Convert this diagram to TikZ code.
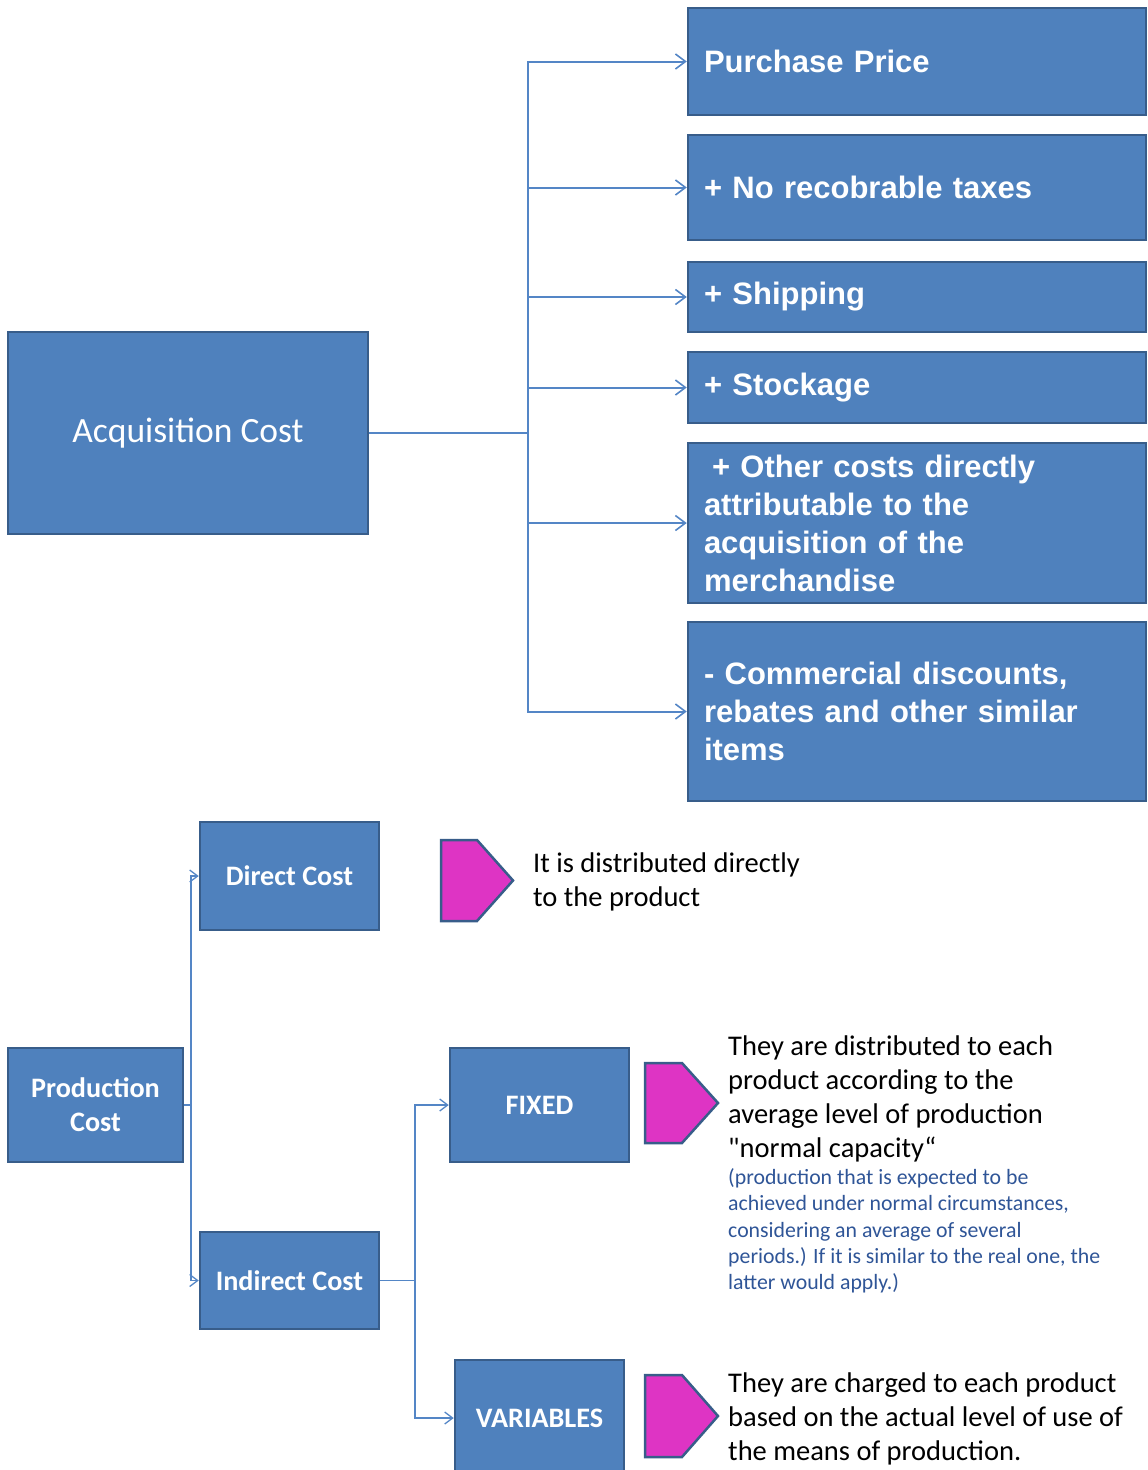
\documentclass[tikz,border=0pt]{standalone}
\usepackage{fontspec}
\setmainfont{Carlito}
\newfontfamily\quotefont{Carlito}
\newfontfamily\arialf{Liberation Sans}
\usetikzlibrary{arrows.meta}
\definecolor{boxfill}{RGB}{79,129,189}
\definecolor{boxline}{RGB}{56,93,138}
\definecolor{conncol}{RGB}{84,134,198}
\definecolor{magent}{RGB}{222,52,196}
\definecolor{noteblue}{RGB}{47,85,151}
\tikzset{
  bluebox/.style={draw=boxline, line width=2.5pt, fill=boxfill, text=white, rectangle, inner sep=0pt},
  rbox/.style={bluebox, minimum width=458pt, text width=426pt, align=left,
     font=\arialf\bfseries\fontsize{31}{38}\selectfont},
  lbox/.style={bluebox, align=center, font=\bfseries\fontsize{28.2}{34}\selectfont},
  conn/.style={draw=conncol, line width=2pt, -{Straight Barb[length=10pt,width=15pt,line width=1.6pt]}},
  conns/.style={draw=conncol, line width=1.5pt, -{Straight Barb[length=8pt,width=12pt,line width=1.3pt]}},
  pent/.style={draw=boxline, line width=2.5pt, fill=magent, line join=miter},
  note/.style={anchor=west, align=left, inner sep=0pt, font=\fontsize{28.5}{34}\selectfont},
  smallnote/.style={anchor=west, align=left, inner sep=0pt, text=noteblue, font=\fontsize{21.8}{26.3}\selectfont},
}
\begin{document}
\begin{tikzpicture}[x=1pt,y=-1pt]
\useasboundingbox (0,0) rectangle (1148,1470);
% ---- top part
\node[bluebox, minimum width=360pt, minimum height=202pt, font=\fontsize{35.5}{40}\selectfont] (acq) at (188,433) {Acquisition Cost};
\node[rbox, minimum height=107pt] (pp) at (917,61.5) {Purchase Price};
\node[rbox, minimum height=105pt] (tax) at (917,187.5) {+ No recobrable taxes};
\node[rbox, minimum height=70pt] (ship) at (917,297) {+ Shipping};
\node[rbox, minimum height=71pt] (stock) at (917,387.5) {+ Stockage};
\node[rbox, minimum height=160pt] (other) at (917,523) {\hspace*{8pt}+ Other costs directly\\attributable to the\\acquisition of the\\merchandise};
\node[rbox, minimum height=179pt] (disc) at (917,711.5) {- Commercial discounts,\\rebates and other similar\\items};
\coordinate (trunk) at (528,433);
\draw[conn] (acq.east) -- (trunk) |- (pp.west);
\draw[conn] (trunk) |- (tax.west);
\draw[conn] (trunk) |- (ship.west);
\draw[conn] (trunk) |- (stock.west);
\draw[conn] (trunk) |- (other.west);
\draw[conn] (trunk) |- (disc.west);
% ---- bottom part
\node[lbox, minimum width=175pt, minimum height=114pt] (prod) at (95.5,1105) {Production\\Cost};
\node[lbox, minimum width=179pt, minimum height=108pt] (direct) at (289.5,876) {Direct Cost};
\node[lbox, minimum width=179pt, minimum height=97pt] (indirect) at (289.5,1280.5) {Indirect Cost};
\node[lbox, minimum width=179pt, minimum height=114pt] (fixed) at (539.5,1105) {FIXED};
\node[lbox, minimum width=169pt, minimum height=116pt] (var) at (539.5,1418) {VARIABLES};
\coordinate (ptrunk) at (191,1105);
\coordinate (itrunk) at (415,1280.5);
\draw[conns] (prod.east) -- (ptrunk) |- (direct.west);
\draw[conns] (ptrunk) |- (indirect.west);
\draw[conns] (indirect.east) -- (itrunk) |- (fixed.west);
\draw[conns] (itrunk) |- (var.west);
% pentagons
\draw[pent] (441,840) -- (477,840) -- (513,880.5) -- (477,921) -- (441,921) -- cycle;
\draw[pent] (645,1063) -- (682,1063) -- (718,1103) -- (682,1143) -- (645,1143) -- cycle;
\draw[pent] (645,1375) -- (682,1375) -- (718,1416) -- (682,1457) -- (645,1457) -- cycle;
% notes
\node[note] (n1) at (533,882) {It is distributed directly\\to the product};
\node[note] (n2) at (728,1099) {They are distributed to each\\product according to the\\average level of production\\{\quotefont"}normal capacity“};
\node[smallnote] (n3) at (728,1231) {(production that is expected to be\\achieved under normal circumstances,\\considering an average of several\\periods.) If it is similar to the real one, the\\latter would apply.)};
\node[note] (n4) at (728,1419) {They are charged to each product\\based on the actual level of use of\\the means of production.};
\end{tikzpicture}
\end{document}
